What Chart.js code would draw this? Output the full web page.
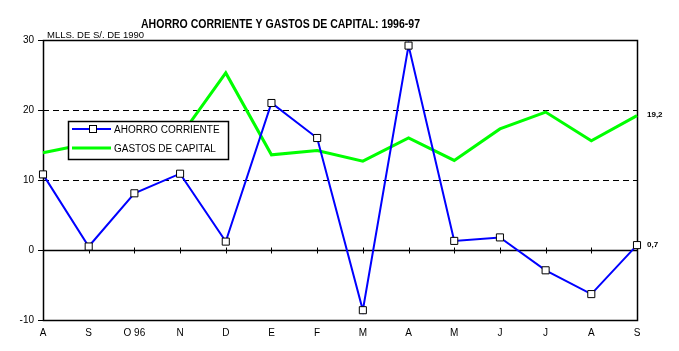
<!DOCTYPE html>
<html>
<head>
<meta charset="utf-8">
<style>
html,body{margin:0;padding:0;background:#fff;}
#wrap{width:679px;height:351px;position:relative;}
</style>
<script src="https://cdn.jsdelivr.net/npm/chart.js@4/dist/chart.umd.min.js"></script>
</head>
<body>
<div id="wrap"><canvas id="c" width="679" height="351"></canvas></div>
<script>
const categories = ['A','S','O 96','N','D','E','F','M','A','M','J','J','A','S'];
const ahorroCorriente = [10.8, 0.5, 8.1, 10.9, 1.2, 21.0, 16.0, -8.6, 29.2, 1.3, 1.8, -2.9, -6.3, 0.7];
const gastosCapital = [13.9, 15.2, 15.8, 16.2, 25.3, 13.6, 14.2, 12.7, 16.0, 12.8, 17.3, 19.7, 15.6, 19.2];
const yTicks = [-10, 0, 10, 20, 30];
const seriesNames = ['AHORRO CORRIENTE', 'GASTOS DE CAPITAL'];
const endLabels = ['0,7', '19,2'];
const titleText = 'AHORRO CORRIENTE Y GASTOS DE CAPITAL: 1996-97';
const unitText = 'MLLS. DE S/. DE 1990';

const FONT = '"Liberation Sans", Arial, sans-serif';

const decor = {
  id: 'decor',
  beforeDatasetsDraw(chart) {
    const {ctx, chartArea: a, scales: {x, y}} = chart;
    ctx.save();
    ctx.strokeStyle = '#000';
    ctx.lineWidth = 1;
    ctx.setLineDash([6, 4]);
    [10, 20].forEach(v => {
      const py = Math.round(y.getPixelForValue(v)) + 0.5;
      ctx.beginPath(); ctx.moveTo(a.left, py); ctx.lineTo(a.right, py); ctx.stroke();
    });
    ctx.setLineDash([]);
    ctx.lineWidth = 1.5;
    ctx.strokeRect(Math.round(a.left) + 0.5, Math.round(a.top) + 0.5, Math.round(a.right - a.left), Math.round(a.bottom - a.top));
    const y0 = Math.round(y.getPixelForValue(0)) + 0.5;
    ctx.beginPath(); ctx.moveTo(a.left, y0); ctx.lineTo(a.right, y0); ctx.stroke();
    ctx.lineWidth = 1;
    categories.forEach((c, i) => {
      const px = Math.round(x.getPixelForValue(i)) + 0.5;
      ctx.beginPath(); ctx.moveTo(px, y0 - 3); ctx.lineTo(px, y0 + 3); ctx.stroke();
    });
    ctx.restore();
  },
  afterDraw(chart) {
    const {ctx, chartArea: a, scales: {x, y}} = chart;
    ctx.save();
    ctx.fillStyle = '#000';
    ctx.font = 'bold 13px ' + FONT;
    ctx.textBaseline = 'alphabetic';
    const w = ctx.measureText(titleText).width;
    const target = 279;
    ctx.save();
    ctx.translate(141, 28);
    ctx.scale(target / w, 1);
    ctx.fillText(titleText, 0, 0);
    ctx.restore();
    ctx.font = '9.5px ' + FONT;
    ctx.fillText(unitText, 47, 38);
    ctx.font = 'bold 8px ' + FONT;
    ctx.textBaseline = 'middle';
    const last = categories.length - 1;
    const lx = x.getPixelForValue(last) + 10;
    ctx.fillText(endLabels[1], lx, y.getPixelForValue(gastosCapital[last]) - 1);
    ctx.fillText(endLabels[0], lx, y.getPixelForValue(ahorroCorriente[last]) + 0);
    const L = {x: 68, y: 121, w: 160, h: 38};
    ctx.fillStyle = '#fff';
    ctx.fillRect(L.x, L.y, L.w, L.h);
    ctx.strokeStyle = '#000';
    ctx.lineWidth = 1.5;
    ctx.strokeRect(L.x + 0.5, L.y + 0.5, L.w, L.h);
    const ds = chart.data.datasets;
    const rows = [129, 148];
    ds.forEach((d, i) => {
      const ry = rows[i];
      ctx.strokeStyle = d.borderColor;
      ctx.lineWidth = d.borderWidth;
      ctx.beginPath(); ctx.moveTo(72, ry); ctx.lineTo(111, ry); ctx.stroke();
      if (d.pointRadius > 0) {
        ctx.fillStyle = '#fff';
        ctx.strokeStyle = '#000';
        ctx.lineWidth = 1;
        ctx.fillRect(89.5, ry - 3.5, 7, 7);
        ctx.strokeRect(89.5, ry - 3.5, 7, 7);
      }
      ctx.fillStyle = '#000';
      ctx.font = '10px ' + FONT;
      ctx.textBaseline = 'middle';
      ctx.fillText(d.label, 114, ry + 1);
    });
    ctx.restore();
  }
};

new Chart(document.getElementById('c'), {
  type: 'line',
  data: {
    labels: categories,
    datasets: [
      {
        label: seriesNames[0],
        data: ahorroCorriente,
        borderColor: '#0000ff',
        borderWidth: 2,
        pointStyle: 'rect',
        pointRadius: 5,
        pointHoverRadius: 5,
        pointBackgroundColor: '#fff',
        pointBorderColor: '#000',
        pointBorderWidth: 1,
        tension: 0,
        clip: false
      },
      {
        label: seriesNames[1],
        data: gastosCapital,
        borderColor: '#00ff00',
        borderWidth: 3,
        pointRadius: 0,
        pointHoverRadius: 0,
        tension: 0,
        clip: false
      }
    ]
  },
  options: {
    responsive: false,
    animation: false,
    events: [],
    layout: {padding: {left: 0, top: 40, right: 42, bottom: 0}},
    plugins: {legend: {display: false}, tooltip: {enabled: false}, title: {display: false}},
    scales: {
      x: {
        type: 'category',
        offset: false,
        grid: {display: false, drawTicks: false},
        border: {display: false},
        ticks: {color: '#000', font: {family: FONT, size: 10}, padding: 7, maxRotation: 0, autoSkip: false},
        afterFit(s) { s.height = 31; }
      },
      y: {
        min: -10, max: 30,
        afterBuildTicks(s) { s.ticks = yTicks.map(v => ({value: v})); },
        grid: {drawOnChartArea: false, drawTicks: true, tickLength: 5, color: '#000', tickColor: '#000'},
        border: {display: false},
        ticks: {color: '#000', font: {family: FONT, size: 10}, padding: 4},
        afterFit(s) { s.width = 43; }
      }
    }
  },
  plugins: [decor]
});
</script>
</body>
</html>
